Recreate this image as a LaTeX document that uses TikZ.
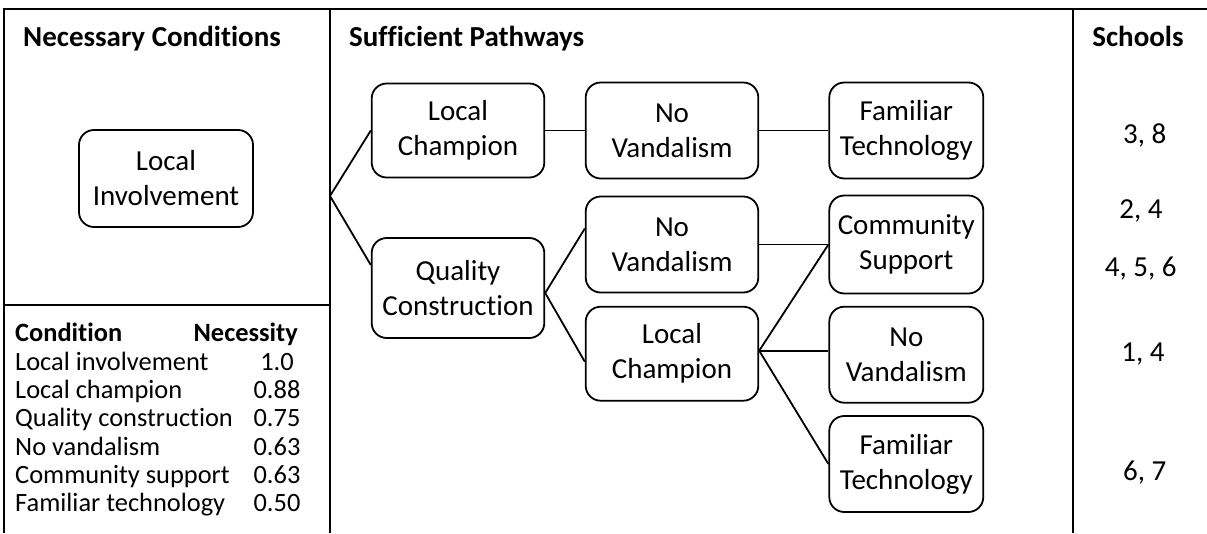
\documentclass[tikz,border=0pt]{standalone}
\usepackage{fontspec}
\setmainfont{Carlito}[Ligatures=NoCommon]
\usetikzlibrary{calc}
\newcommand\boxfont{\fontsize{29}{35}\selectfont}
\newcommand\tabfont{\fontsize{26.4}{28.3}\selectfont}
\begin{document}
\begin{tikzpicture}[x=1pt,y=-1pt,
  frame/.style={line width=2pt},
  pbox/.style={draw, line width=1.8pt, rounded corners=15pt, align=center, inner sep=0pt, font=\boxfont, minimum width=172.6pt, minimum height=96pt},
  narrow/.style={minimum width=154pt},
  link/.style={line width=1.8pt},
  title/.style={font=\boxfont\bfseries, anchor=base west, inner sep=0pt},
  num/.style={font=\boxfont, anchor=base, inner sep=0pt},
  trow/.style={font=\tabfont, anchor=base west, inner sep=0pt},
  tval/.style={font=\tabfont, anchor=base, inner sep=0pt}]
\useasboundingbox (0,0) rectangle (1207,533);
% frame
\draw[frame] (1207,9) -- (4,9) -- (4,533);
\draw[frame] (330,9) -- (330,533);
\draw[frame] (1073,9) -- (1073,533);
\draw[frame] (4,305) -- (330,305);
% titles
\node[title] (t1) at (23,46.5) {Necessary Conditions};
\node[title] (t2) at (349,46.5) {Sufficient Pathways};
\node[title, anchor=base] (t3) at (1138,46.5) {Schools};
% necessary box
\node[pbox, minimum width=174pt, minimum height=97pt] (LI) at (166,178.5) {Local\\Involvement};
% pathways
\node[pbox, minimum height=94pt] (LC1) at (458,130.5) {Local\\Champion};
\node[pbox, minimum height=100pt] (QC) at (458,288) {Quality\\Construction};
\node[pbox] (NV1) at (672,130.5) {No\\Vandalism};
\node[pbox] (NV2) at (672,244.5) {No\\Vandalism};
\node[pbox, minimum height=94pt] (LC2) at (672,353.7) {Local\\Champion};
\node[pbox, narrow] (FT1) at (906.3,130.5) {Familiar\\Technology};
\node[pbox, narrow, minimum height=98pt] (CS) at (906.3,244.5) {Community\\Support};
\node[pbox, narrow] (NV3) at (906.3,354.7) {No\\Vandalism};
\node[pbox, narrow] (FT2) at (906.3,464) {Familiar\\Technology};
% connectors
\coordinate (A) at (330,196);
\draw[link] (A) -- (LC1.west);
\draw[link] (A) -- ($(QC.west)+(0,-23)$);
\coordinate (B) at ($(QC.east)+(0,5)$);
\draw[link] (B) -- ($(NV2.west)+(0,-16)$);
\draw[link] (B) -- ($(LC2.west)+(0,8)$);
\draw[link] (LC1.east) -- (NV1.west);
\draw[link] (NV1.east) -- (FT1.west);
\draw[link] (NV2.east) -- (CS.west);
\coordinate (C) at ($(LC2.east)+(0,-3)$);
\draw[link] (C) -- (CS.west);
\draw[link] (C) -- (NV3.west |- C);
\draw[link] (C) -- (FT2.west);
% schools
\node[num] (s1) at (1144.7,143.3) {3, 8};
\node[num] (s2) at (1141,218.3) {2, 4};
\node[num] (s3) at (1140.8,276) {4, 5, 6};
\node[num] (s4) at (1143,361.7) {1, 4};
\node[num] (s5) at (1144.7,480) {6, 7};
% table
\node[trow, font=\tabfont\bfseries] (h1) at (15,341.7) {Condition};
\node[trow, font=\tabfont\bfseries, anchor=base east] (h2) at (298,341.7) {Necessity};
\node[trow] (r1) at (15,370) {Local involvement};
\node[trow] (r2) at (15,398.3) {Local champion};
\node[trow] (r3) at (15,426.7) {Quality construction};
\node[trow] (r4) at (15,455) {No vandalism};
\node[trow] (r5) at (15,483.3) {Community support};
\node[trow] (r6) at (15,511.7) {Familiar technology};
\node[tval] (v1) at (277,370) {1.0};
\node[tval] (v2) at (277,398.3) {0.88};
\node[tval] (v3) at (277,426.7) {0.75};
\node[tval] (v4) at (277,455) {0.63};
\node[tval] (v5) at (277,483.3) {0.63};
\node[tval] (v6) at (277,511.7) {0.50};
\end{tikzpicture}
\end{document}
